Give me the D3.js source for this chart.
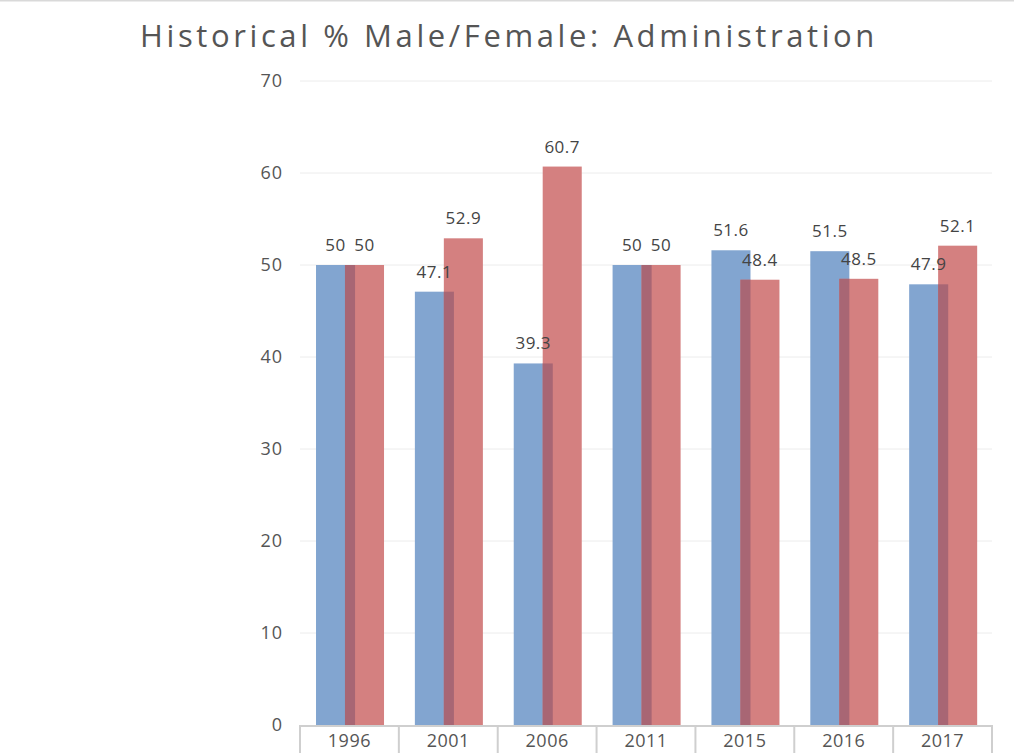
<!DOCTYPE html>
<html>
<head>
<meta charset="utf-8">
<script src="https://cdn.jsdelivr.net/npm/d3@7"></script>
<style>
  body { margin: 0; background: #fff; }
  svg { display: block; font-family: "Open Sans", "Noto Sans", sans-serif; }
</style>
</head>
<body>
<svg id="chart" width="1014" height="753"></svg>
<script>
const years = ["1996", "2001", "2006", "2011", "2015", "2016", "2017"];
const male = [50, 47.1, 39.3, 50, 51.6, 51.5, 47.9];
const female = [50, 52.9, 60.7, 50, 48.4, 48.5, 52.1];
const yTicks = [0, 10, 20, 30, 40, 50, 60, 70];

const width = 1014, height = 753;
const margin = { top: 81, right: 22, bottom: 28, left: 300 };

const svg = d3.select("#chart");

// thin rule along the top edge
svg.append("line")
  .attr("x1", 0).attr("x2", width)
  .attr("y1", 0.5).attr("y2", 0.5)
  .attr("stroke", "#d9d9d9").attr("stroke-width", 2);

svg.append("text")
  .attr("x", 509).attr("y", 47)
  .attr("text-anchor", "middle")
  .attr("fill", "#555")
  .style("font-size", "31px")
  .style("letter-spacing", "3.6px")
  .text("Historical % Male/Female: Administration");

const x = d3.scaleBand()
  .domain(years)
  .range([margin.left, width - margin.right]);

const y = d3.scaleLinear()
  .domain([0, 70])
  .range([height - margin.bottom, margin.top]);

const bw = x.bandwidth();
const barW = bw * 0.395;
const maleX = d => x(d) + bw * 0.162;
const femaleX = d => x(d) + bw * 0.455;

// gridlines
svg.append("g")
  .selectAll("line")
  .data(yTicks.filter(t => t > 0))
  .join("line")
  .attr("x1", margin.left).attr("x2", width - margin.right)
  .attr("y1", d => y(d)).attr("y2", d => y(d))
  .attr("stroke", "#ececec").attr("stroke-width", 1);

// y axis labels
const yAxis = svg.append("g")
  .attr("transform", `translate(${margin.left - 17},0)`)
  .call(d3.axisLeft(y).tickValues(yTicks).tickSize(0).tickPadding(0));
yAxis.select(".domain").remove();
yAxis.selectAll("text")
  .attr("fill", "#555")
  .style("font-size", "18px")
  .style("letter-spacing", "1px")
  .style("font-family", "'Open Sans', 'Noto Sans', sans-serif");

// bars
const rows = years.map((yr, i) => ({ yr, m: male[i], f: female[i] }));

svg.append("g").selectAll("rect")
  .data(rows).join("rect")
  .attr("x", d => maleX(d.yr))
  .attr("width", barW)
  .attr("y", d => y(d.m))
  .attr("height", d => y(0) - y(d.m))
  .attr("fill", "#82a5d0");

svg.append("g").selectAll("rect")
  .data(rows).join("rect")
  .attr("x", d => femaleX(d.yr))
  .attr("width", barW)
  .attr("y", d => y(d.f))
  .attr("height", d => y(0) - y(d.f))
  .attr("fill", "#d48080");

// darker strip where the two bars overlap
svg.append("g").selectAll("rect")
  .data(rows).join("rect")
  .attr("x", d => femaleX(d.yr))
  .attr("width", maleX(years[0]) + barW - femaleX(years[0]))
  .attr("y", d => y(Math.min(d.m, d.f)))
  .attr("height", d => y(0) - y(Math.min(d.m, d.f)))
  .attr("fill", "#a86674");

// value labels
const lbl = svg.append("g")
  .attr("fill", "#444")
  .attr("text-anchor", "middle")
  .style("font-size", "17px")
  .style("letter-spacing", "0.5px");

lbl.selectAll(".ml").data(rows).join("text")
  .attr("class", "ml")
  .attr("x", d => maleX(d.yr) + barW / 2)
  .attr("y", d => y(d.m) - 14)
  .text(d => d.m);

lbl.selectAll(".fl").data(rows).join("text")
  .attr("class", "fl")
  .attr("x", d => femaleX(d.yr) + barW / 2)
  .attr("y", d => y(d.f) - 14)
  .text(d => d.f);

// x axis baseline and category dividers
const base = y(0);
svg.append("line")
  .attr("x1", margin.left).attr("x2", width - margin.right)
  .attr("y1", base + 1).attr("y2", base + 1)
  .attr("stroke", "#cfcfcf").attr("stroke-width", 2);

const edges = years.map(d => x(d)).concat([width - margin.right]);
svg.append("g").selectAll("line")
  .data(edges).join("line")
  .attr("x1", d => d).attr("x2", d => d)
  .attr("y1", base).attr("y2", height)
  .attr("stroke", "#cfcfcf").attr("stroke-width", 2);

svg.append("g").selectAll("text")
  .data(years).join("text")
  .attr("x", d => x(d) + bw / 2)
  .attr("y", base + 22)
  .attr("text-anchor", "middle")
  .attr("fill", "#555")
  .style("font-size", "18px")
  .style("letter-spacing", "0.5px")
  .text(d => d);
</script>
</body>
</html>
